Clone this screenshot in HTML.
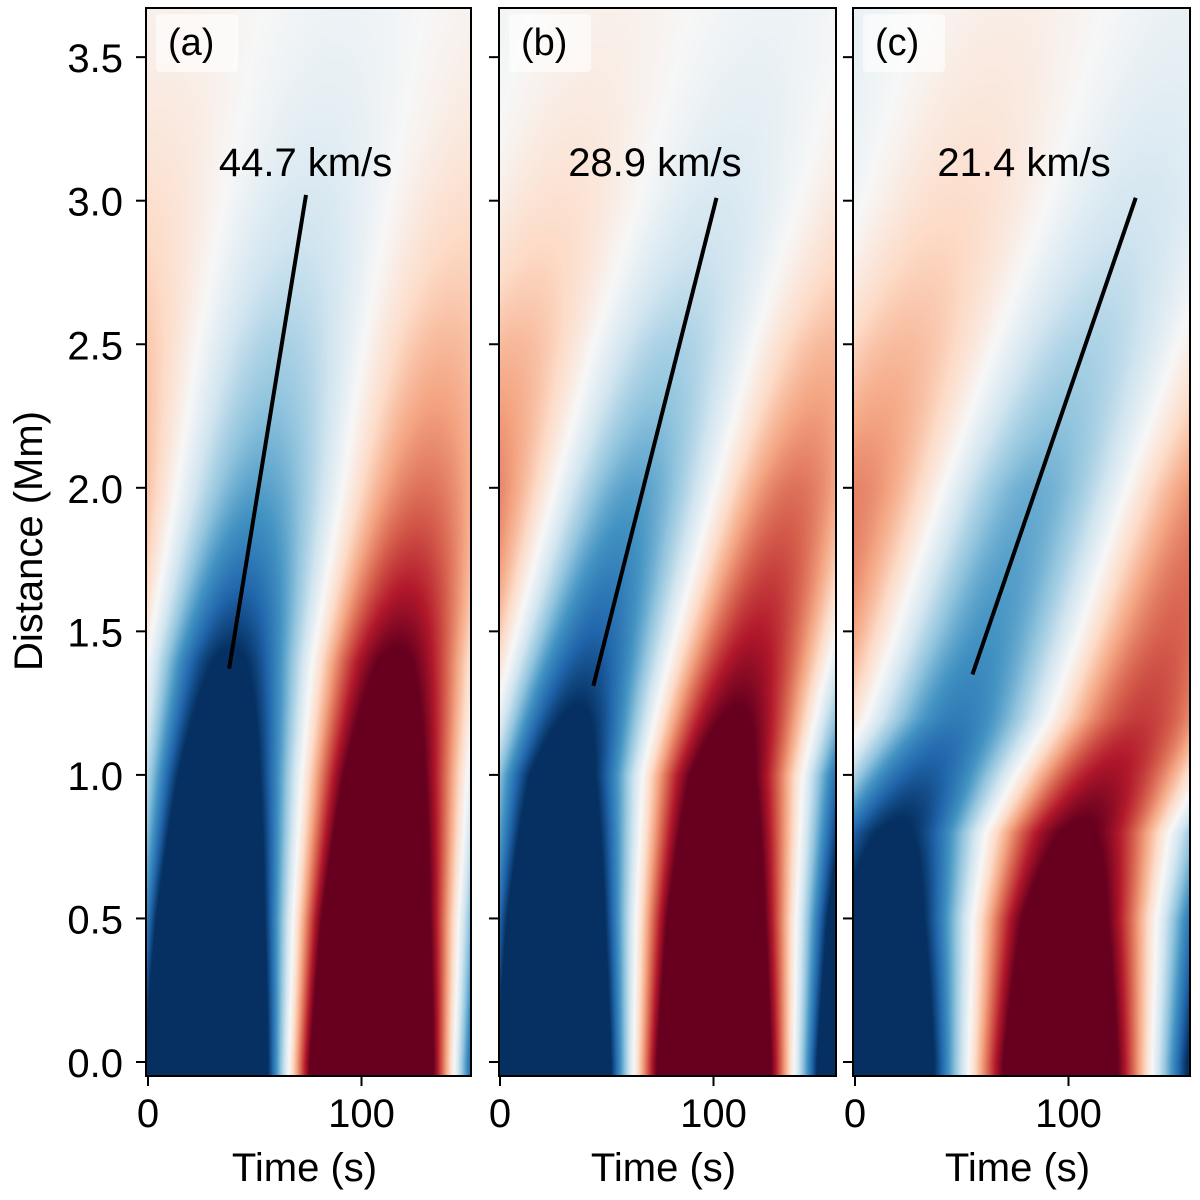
<!DOCTYPE html>
<html><head><meta charset="utf-8">
<style>
body{margin:0;background:#fff;width:1200px;height:1200px;overflow:hidden;font-family:"Liberation Sans",Arial,sans-serif;}
#root{position:relative;width:1200px;height:1200px;}
canvas{position:absolute;}
svg{position:absolute;left:0;top:0;}
</style></head><body>
<div id="root">
<canvas id="ca" width="325" height="1068" style="left:146px;top:8px"></canvas>
<canvas id="cb" width="337" height="1068" style="left:499px;top:8px"></canvas>
<canvas id="cc" width="337" height="1068" style="left:853px;top:8px"></canvas>
<svg id="ov" width="1200" height="1200"></svg>
</div>
<script>
// ---- data ----
const panelLabels = ["(a)", "(b)", "(c)"];
const speedLabels = ["44.7 km/s", "28.9 km/s", "21.4 km/s"];
const periods = [155, 150, 172];
const zLevelsA = [0, 0.5, 1.0, 1.4, 2.0, 2.5, 3.0, 3.7];
const blueCenterA = [27, 29, 33, 38, 52, 62, 74, 92];
const ampA = [2.6, 1.95, 1.4, 1.05, 0.55, 0.33, 0.17, 0.05];
const zLevelsB = [0, 0.5, 1.0, 1.3, 1.5, 2.0, 2.5, 3.0, 3.7];
const blueCenterB = [25, 26, 29, 38, 45, 63, 81, 102, 128];
const ampB = [2.3, 1.75, 1.25, 0.95, 0.8, 0.55, 0.33, 0.16, 0.05];
const zLevelsC = [0, 0.5, 0.8, 1.0, 1.2, 1.5, 2.0, 2.5, 3.0, 3.7];
const blueCenterC = [10, 12, 18, 32, 48, 62, 84, 108, 133, 160];
const ampC = [1.8, 1.35, 1.05, 0.85, 0.7, 0.6, 0.5, 0.32, 0.18, 0.07];
const lineStartT = [38, 43.7, 55];
const lineStartZ = [1.37, 1.31, 1.35];
const lineEndT = [74, 101.4, 131.5];
const lineEndZ = [3.02, 3.01, 3.01];
const yTicks = [0.0, 0.5, 1.0, 1.5, 2.0, 2.5, 3.0, 3.5];
const xTicks = [0, 100];

// ---- geometry ----
const boxes = [[146,471],[499,836],[853,1190]];
const zeros = [148,500,855];
const pxPerS = 2.135;
const yTop = 8, yBot = 1076;
const z0y = 1062, pxPerMm = 287.1;
const xOf = (p,t) => zeros[p] + t*pxPerS;
const yOf = z => z0y - z*pxPerMm;

function interp(xs, ys, x, log){
  const n=xs.length;
  let i=1;
  if (x <= xs[0]) return ys[0];
  while (i<n-1 && x>xs[i]) i++;
  const f=(x-xs[i-1])/(xs[i]-xs[i-1]);
  if (log) return Math.exp(Math.log(ys[i-1])*(1-f)+Math.log(ys[i])*f);
  return ys[i-1]*(1-f)+ys[i]*f;
}
const cmap = [[5,48,97],[33,102,172],[67,147,195],[146,197,222],[209,229,240],[247,247,247],[253,219,199],[244,165,130],[214,96,77],[178,24,43],[103,0,31]];
function color(v){
  v=Math.max(-1,Math.min(1,v));
  const p=(v+1)*5, i=Math.min(9,Math.floor(p)), f=p-i;
  const a=cmap[i], b=cmap[i+1];
  return [a[0]+(b[0]-a[0])*f, a[1]+(b[1]-a[1])*f, a[2]+(b[2]-a[2])*f];
}
const zl=[zLevelsA,zLevelsB,zLevelsC], bc=[blueCenterA,blueCenterB,blueCenterC], am=[ampA,ampB,ampC];
["ca","cb","cc"].forEach((id,p)=>{
  const cv=document.getElementById(id), ctx=cv.getContext('2d');
  const W=cv.width,H=cv.height, img=ctx.createImageData(W,H);
  for (let j=0;j<H;j++){
    const z=(z0y-(yTop+j))/pxPerMm;
    const c=interp(zl[p],bc[p],z,false), A=interp(zl[p],am[p],z,true);
    for (let i=0;i<W;i++){
      const t=(boxes[p][0]+i-zeros[p])/pxPerS;
      const v=-A*Math.cos(2*Math.PI*(t-c)/periods[p]);
      const col=color(v), k=(j*W+i)*4;
      img.data[k]=col[0];img.data[k+1]=col[1];img.data[k+2]=col[2];img.data[k+3]=255;
    }
  }
  ctx.putImageData(img,0,0);
});

// ---- overlay ----
const NS="http://www.w3.org/2000/svg", ov=document.getElementById('ov');
function mk(tag, attrs, text){
  const e=document.createElementNS(NS,tag);
  for (const k in attrs) e.setAttribute(k,attrs[k]);
  if (text!==undefined) e.textContent=text;
  ov.appendChild(e); return e;
}
boxes.forEach((b,p)=>{
  const lb=mk('rect',{x:b[0]+10,y:14,width:82,height:58,fill:'rgba(255,255,255,0.6)',rx:4});
  
  
  const pl=mk('text',{x:b[0]+22,y:55,'font-size':38,fill:'#000'},panelLabels[p]);
  
  
  const sl=mk('text',{x:xOf(p,(lineStartT[p]+lineEndT[p])/2)+ (p==0?38:p==1?0:-30),y:176,'font-size':40,'text-anchor':'middle',fill:'#000'},speedLabels[p]);
  
  
  const ln=mk('line',{x1:xOf(p,lineStartT[p]),y1:yOf(lineStartZ[p]),x2:xOf(p,lineEndT[p]),y2:yOf(lineEndZ[p]),stroke:'#000','stroke-width':4});
  
  
  const fr=mk('rect',{x:b[0],y:yTop,width:b[1]-b[0],height:yBot-yTop,fill:'none',stroke:'#000','stroke-width':2});
  
  
  yTicks.forEach(v=>{
    const tk=mk('line',{x1:b[0]-10,x2:b[0],y1:yOf(v),y2:yOf(v),stroke:'#000','stroke-width':2});
    
    
    if (p===0){
      const tl=mk('text',{x:b[0]-23,y:yOf(v)+15,'font-size':40,'text-anchor':'end',fill:'#000'},v.toFixed(1));
      
      
    }
  });
  xTicks.forEach(v=>{
    const tk=mk('line',{x1:xOf(p,v),x2:xOf(p,v),y1:yBot,y2:yBot+10,stroke:'#000','stroke-width':2});
    
    
    const tl=mk('text',{x:xOf(p,v),y:1127,'font-size':40,'text-anchor':'middle',fill:'#000'},String(v));
    
    
  });
  const xt=mk('text',{x:(b[0]+b[1])/2-4,y:1181,'font-size':40,'text-anchor':'middle',fill:'#000'},'Time (s)');
  
  
});
const yt=mk('text',{x:0,y:0,'font-size':40,'text-anchor':'middle',fill:'#000',transform:'translate(42,541) rotate(-90)'},'Distance (Mm)');


</script>
</body></html>
